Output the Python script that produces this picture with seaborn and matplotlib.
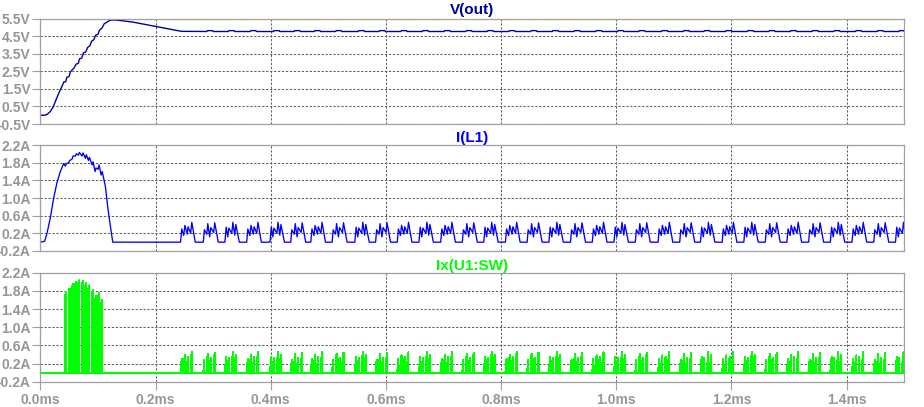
import matplotlib
matplotlib.use("Agg")
import matplotlib.pyplot as plt
import numpy as np
import pandas as pd
import seaborn as sns
from matplotlib.ticker import FixedLocator, FixedFormatter

# ---------------- data ----------------
# V(out) start-up, time in ms, volts
vout_t = [0.0, 0.0075, 0.012, 0.017, 0.022, 0.027, 0.032, 0.037, 0.041, 0.044,
          0.046, 0.050, 0.052, 0.056, 0.059, 0.062, 0.066, 0.068, 0.072, 0.075,
          0.079, 0.082, 0.086, 0.089, 0.093, 0.096, 0.100, 0.103, 0.107, 0.111,
          0.116, 0.121, 0.127, 0.135, 0.160, 0.200, 0.230, 0.245]
vout_v = [0.0, 0.0, 0.05, 0.2, 0.45, 0.85, 1.25, 1.6, 1.9, 1.9,
          2.15, 2.2, 2.45, 2.6, 2.7, 2.9, 2.95, 3.2, 3.25, 3.55,
          3.6, 3.85, 3.95, 4.2, 4.3, 4.55, 4.6, 4.85, 4.95, 5.2,
          5.3, 5.4, 5.42, 5.4, 5.3, 5.05, 4.86, 4.77]
vout_level = 4.76
vout_ripple = 4.81

# I(L1) soft rise before switching, ms / A
il_rise_t = [0.0, 0.0075, 0.0116, 0.0174, 0.0232, 0.029, 0.0348, 0.0406]
il_rise_i = [0.0, 0.02, 0.2, 0.55, 1.0, 1.35, 1.6, 1.78]
# start-up switch pulses (ms, A)
su_on = [0.0435, 0.0493, 0.0551, 0.0609, 0.0661, 0.0725, 0.0783, 0.0835,
         0.0899, 0.0951, 0.1003, 0.1055]
su_off = [0.0452, 0.0510, 0.0568, 0.0626, 0.0678, 0.0742, 0.0800, 0.0852,
          0.0916, 0.0968, 0.1020, 0.1075]
su_i0 = [1.72, 1.80, 1.88, 1.95, 1.97, 1.95, 1.90, 1.85, 1.75, 1.60, 1.65, 1.52]
su_ip = [1.78, 1.85, 1.95, 2.00, 2.03, 2.02, 1.98, 1.92, 1.82, 1.68, 1.75, 1.60]
il_fall_t = [0.113, 0.117, 0.1217, 0.1258]
il_fall_i = [1.26, 0.80, 0.36, 0.0]

# burst-mode switching: burst start times (ms) and burst shape used
burst_start = [0.2435, 0.2830, 0.3205, 0.3583, 0.3988, 0.4348, 0.4696, 0.5066,
               0.5461, 0.5821, 0.6197, 0.6574, 0.6951, 0.7327, 0.7699, 0.8075,
               0.8452, 0.8830, 0.9205, 0.9583, 0.9960, 1.0330, 1.0725, 1.1101,
               1.1461, 1.1838, 1.2214, 1.2586, 1.2962, 1.3339, 1.3716, 1.4092,
               1.4470, 1.4847]
burst_kind = [0, 1, 2, 0, 2, 1, 0, 1, 2, 1, 0, 2, 0, 1, 2, 0, 1,
              2, 1, 0, 2, 1, 0, 1, 2, 0, 2, 1, 0, 1, 2, 0, 1, 2]
# burst shapes: pulse on/off (microseconds after burst start), currents (A)
shape_on = [[0.0, 5.5, 11.5, 17.5],
            [0.0, 6.0, 11.0, 18.0],
            [0.0, 5.0, 12.0, 17.0]]
shape_off = [[2.0, 7.5, 13.0, 19.5],
             [1.8, 7.8, 13.0, 19.8],
             [2.2, 6.8, 13.8, 19.0]]
shape_i0 = [[0.0, 0.15, 0.18, 0.20],
            [0.0, 0.18, 0.12, 0.22],
            [0.0, 0.12, 0.20, 0.16]]
shape_ip = [[0.30, 0.38, 0.35, 0.45],
            [0.28, 0.42, 0.33, 0.44],
            [0.34, 0.32, 0.45, 0.40]]
shape_end = [25.5, 26.0, 25.0]

# axes ticks
x_ticks = [0.0, 0.2, 0.4, 0.6, 0.8, 1.0, 1.2, 1.4]
x_labels = ["0.0ms", "0.2ms", "0.4ms", "0.6ms", "0.8ms", "1.0ms", "1.2ms", "1.4ms"]
v_ticks = [-0.5, 0.5, 1.5, 2.5, 3.5, 4.5, 5.5]
v_labels = ["-0.5V", "0.5V", "1.5V", "2.5V", "3.5V", "4.5V", "5.5V"]
i_ticks = [-0.2, 0.2, 0.6, 1.0, 1.4, 1.8, 2.2]
i_labels = ["-0.2A", "0.2A", "0.6A", "1.0A", "1.4A", "1.8A", "2.2A"]
titles = ["V(out)", "I(L1)", "Ix(U1:SW)"]
colors = ["#0000a0", "#0000ff", "#00ff00"]

# ---------------- assemble waveforms ----------------
vt, vv = list(vout_t), list(vout_v)
for ts in burst_start[1:]:
    vt += [ts + 0.006, ts + 0.007, ts + 0.016, ts + 0.017]
    vv += [vout_level, vout_ripple, vout_ripple, vout_level]
vt.append(1.5)
vv.append(vout_level)

bt, bi = list(il_rise_t), list(il_rise_i)
gt, gi = [0.0], [0.0]
for on, off, i0, ip in zip(su_on, su_off, su_i0, su_ip):
    bt += [on, off]
    bi += [i0, ip]
    gt += [on, on, off, off]
    gi += [0.0, i0, ip, 0.0]
bt += il_fall_t
bi += il_fall_i
for ts, k in zip(burst_start, burst_kind):
    bt.append(ts)
    bi.append(0.0)
    for on, off, i0, ip in zip(shape_on[k], shape_off[k], shape_i0[k], shape_ip[k]):
        bt += [ts + on / 1000, ts + off / 1000]
        bi += [i0, ip]
        gt += [ts + on / 1000, ts + on / 1000, ts + off / 1000, ts + off / 1000]
        gi += [0.0, i0, ip, 0.0]
    bt.append(ts + shape_end[k] / 1000)
    bi.append(0.0)
gt.append(1.6)
gi.append(0.0)

df_v = pd.DataFrame({"t": vt, "y": vv})
df_b = pd.DataFrame({"t": bt, "y": bi})
df_g = pd.DataFrame({"t": gt, "y": gi})

# ---------------- drawing ----------------
sns.set_style("white")
plt.rcParams["font.family"] = ["Liberation Sans", "DejaVu Sans"]
plt.rcParams["font.weight"] = "bold"

W, H = 924, 407
fig = plt.figure(figsize=(W / 100, H / 100), dpi=100)
left_px, right_px = 40.3, 904.3
panels = [(18.5, 124.0), (145.0, 251.0), (272.7, 381.7)]
frame_c = "#a0a0a0"
label_c = "#969696"
grid_c = "#606060"

dfs = [df_v, df_b, df_g]
yl = [(-0.5, 5.5), (-0.2, 2.2), (-0.2, 2.2)]
yt = [(v_ticks, v_labels), (i_ticks, i_labels), (i_ticks, i_labels)]
pads = [3, 2, 2]
lws = [1.0, 0.95, 0.72]
aas = [True, True, False]

for n, (top, bot) in enumerate(panels):
    ax = fig.add_axes([left_px / W, 1 - bot / H, (right_px - left_px) / W, (bot - top) / H])
    ax.set_facecolor("none")
    sns.lineplot(data=dfs[n], x="t", y="y", ax=ax, color=colors[n], lw=lws[n],
                 estimator=None, sort=False, legend=False, antialiased=aas[n])
    ax.set_xlim(0, 1.5)
    ax.set_ylim(*yl[n])
    ax.xaxis.set_major_locator(FixedLocator(x_ticks))
    ax.yaxis.set_major_locator(FixedLocator(yt[n][0]))
    ax.yaxis.set_major_formatter(FixedFormatter(yt[n][1]))
    ax.set_axisbelow(True)
    ax.grid(True, color=grid_c, ls=(0, (2.2, 1.6)), lw=0.75)
    for s in ax.spines.values():
        s.set_color(frame_c)
        s.set_linewidth(0.9)
        s.set_visible(True)
    ax.tick_params(axis="y", length=6, width=0.8, color=frame_c, labelcolor=label_c,
                   labelsize=10, pad=1, left=True)
    if n == 2:
        ax.xaxis.set_major_formatter(FixedFormatter(x_labels))
        ax.tick_params(axis="x", length=6, width=0.8, color=frame_c, labelcolor=label_c,
                       labelsize=10, pad=2, bottom=True)
    else:
        ax.tick_params(axis="x", length=0, labelbottom=False)
    ax.set_xlabel("")
    ax.set_ylabel("")
    ax.set_title(titles[n], color=colors[n], fontsize=11, fontweight="bold", pad=pads[n])
    for lab in ax.get_yticklabels() + ax.get_xticklabels():
        lab.set_fontweight("bold")

fig.savefig("out.png", dpi=100, facecolor="white")
